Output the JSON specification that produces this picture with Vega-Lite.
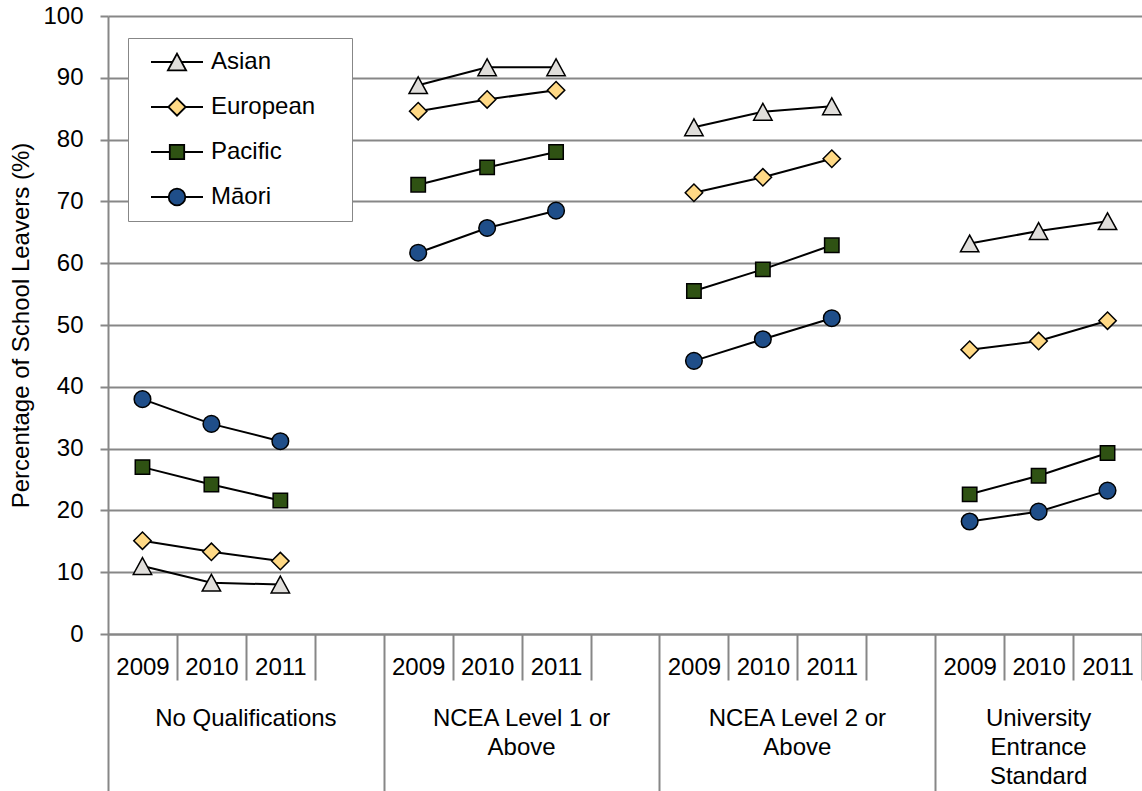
{
  "$schema": "https://vega.github.io/schema/vega-lite/v6.json",
  "width": 1034,
  "height": 618,
  "autosize": {"type": "none"},
  "padding": {"left": 108, "top": 16, "right": 0, "bottom": 157},
  "config": {
    "font": "Liberation Sans",
    "view": {"stroke": null},
    "axis": {"labelColor": "black", "titleColor": "black", "labelFont": "Liberation Sans", "titleFont": "Liberation Sans"}
  },
  "data": {
    "values": [
      {"slot": "NQ|2009", "group": "NQ", "eth": "Asian", "pct": 11.0},
      {"slot": "NQ|2010", "group": "NQ", "eth": "Asian", "pct": 8.3},
      {"slot": "NQ|2011", "group": "NQ", "eth": "Asian", "pct": 8.0},
      {"slot": "NQ|2009", "group": "NQ", "eth": "European", "pct": 15.1},
      {"slot": "NQ|2010", "group": "NQ", "eth": "European", "pct": 13.3},
      {"slot": "NQ|2011", "group": "NQ", "eth": "European", "pct": 11.8},
      {"slot": "NQ|2009", "group": "NQ", "eth": "Pacific", "pct": 27.0},
      {"slot": "NQ|2010", "group": "NQ", "eth": "Pacific", "pct": 24.2},
      {"slot": "NQ|2011", "group": "NQ", "eth": "Pacific", "pct": 21.6},
      {"slot": "NQ|2009", "group": "NQ", "eth": "Māori", "pct": 38.0},
      {"slot": "NQ|2010", "group": "NQ", "eth": "Māori", "pct": 34.0},
      {"slot": "NQ|2011", "group": "NQ", "eth": "Māori", "pct": 31.2},
      {"slot": "L1|2009", "group": "L1", "eth": "Asian", "pct": 88.8},
      {"slot": "L1|2010", "group": "L1", "eth": "Asian", "pct": 91.7},
      {"slot": "L1|2011", "group": "L1", "eth": "Asian", "pct": 91.7},
      {"slot": "L1|2009", "group": "L1", "eth": "European", "pct": 84.6},
      {"slot": "L1|2010", "group": "L1", "eth": "European", "pct": 86.5},
      {"slot": "L1|2011", "group": "L1", "eth": "European", "pct": 88.0},
      {"slot": "L1|2009", "group": "L1", "eth": "Pacific", "pct": 72.7},
      {"slot": "L1|2010", "group": "L1", "eth": "Pacific", "pct": 75.5},
      {"slot": "L1|2011", "group": "L1", "eth": "Pacific", "pct": 78.0},
      {"slot": "L1|2009", "group": "L1", "eth": "Māori", "pct": 61.7},
      {"slot": "L1|2010", "group": "L1", "eth": "Māori", "pct": 65.7},
      {"slot": "L1|2011", "group": "L1", "eth": "Māori", "pct": 68.5},
      {"slot": "L2|2009", "group": "L2", "eth": "Asian", "pct": 82.0},
      {"slot": "L2|2010", "group": "L2", "eth": "Asian", "pct": 84.5},
      {"slot": "L2|2011", "group": "L2", "eth": "Asian", "pct": 85.4},
      {"slot": "L2|2009", "group": "L2", "eth": "European", "pct": 71.4},
      {"slot": "L2|2010", "group": "L2", "eth": "European", "pct": 73.9},
      {"slot": "L2|2011", "group": "L2", "eth": "European", "pct": 76.9},
      {"slot": "L2|2009", "group": "L2", "eth": "Pacific", "pct": 55.5},
      {"slot": "L2|2010", "group": "L2", "eth": "Pacific", "pct": 59.0},
      {"slot": "L2|2011", "group": "L2", "eth": "Pacific", "pct": 62.9},
      {"slot": "L2|2009", "group": "L2", "eth": "Māori", "pct": 44.2},
      {"slot": "L2|2010", "group": "L2", "eth": "Māori", "pct": 47.7},
      {"slot": "L2|2011", "group": "L2", "eth": "Māori", "pct": 51.1},
      {"slot": "UE|2009", "group": "UE", "eth": "Asian", "pct": 63.2},
      {"slot": "UE|2010", "group": "UE", "eth": "Asian", "pct": 65.2},
      {"slot": "UE|2011", "group": "UE", "eth": "Asian", "pct": 66.8},
      {"slot": "UE|2009", "group": "UE", "eth": "European", "pct": 46.0},
      {"slot": "UE|2010", "group": "UE", "eth": "European", "pct": 47.4},
      {"slot": "UE|2011", "group": "UE", "eth": "European", "pct": 50.7},
      {"slot": "UE|2009", "group": "UE", "eth": "Pacific", "pct": 22.6},
      {"slot": "UE|2010", "group": "UE", "eth": "Pacific", "pct": 25.6},
      {"slot": "UE|2011", "group": "UE", "eth": "Pacific", "pct": 29.3},
      {"slot": "UE|2009", "group": "UE", "eth": "Māori", "pct": 18.2},
      {"slot": "UE|2010", "group": "UE", "eth": "Māori", "pct": 19.8},
      {"slot": "UE|2011", "group": "UE", "eth": "Māori", "pct": 23.2}
    ]
  },
  "layer": [
    {
      "mark": {"type": "line", "color": "black", "strokeWidth": 2},
      "encoding": {
        "x": {
          "field": "slot", "type": "ordinal",
          "scale": {"type": "band", "paddingInner": 0, "paddingOuter": 0,
            "domain": ["NQ|2009","NQ|2010","NQ|2011","NQ|","L1|2009","L1|2010","L1|2011","L1|","L2|2009","L2|2010","L2|2011","L2|","UE|2009","UE|2010","UE|2011"]},
          "axis": {
            "title": null, "orient": "bottom", "grid": false,
            "tickBand": "extent",
            "labelExpr": "split(datum.value, '|')[1]",
            "labelAngle": 0, "labelOverlap": false,
            "labelFontSize": 24,
            "labelPadding": {"condition": {"test": "datum.extra || indexof(['NQ|','L1|','L2|'], datum.value) >= 0", "value": -136}, "value": -25},
            "tickColor": "#878787", "tickWidth": 2,
            "tickSize": {"condition": {"test": "datum.extra || indexof(['NQ|','L1|','L2|'], datum.value) >= 0", "value": 157}, "value": 46},
            "domainColor": "#878787", "domainWidth": 2
          }
        },
        "y": {
          "field": "pct", "type": "quantitative",
          "scale": {"domain": [0, 100], "nice": false, "zero": true},
          "axis": {
            "title": "Percentage of School Leavers (%)",
            "values": [0,10,20,30,40,50,60,70,80,90,100],
            "titleFontSize": 24, "titleFontWeight": "normal", "titlePadding": 9,
            "labelFontSize": 24, "labelPadding": 17,
            "tickSize": 8, "tickColor": "#878787", "tickWidth": 2,
            "domainColor": "#878787", "domainWidth": 2,
            "gridColor": "#878787", "gridWidth": 2
          }
        },
        "detail": [{"field": "eth"}, {"field": "group"}]
      }
    },
    {
      "mark": {"type": "point", "filled": true, "size": 400, "stroke": "black", "strokeWidth": 1.5, "opacity": 1},
      "encoding": {
        "x": {
          "field": "slot", "type": "ordinal",
          "axis": {
            "title": null, "orient": "bottom", "grid": false, "domain": false, "ticks": false,
            "values": ["NQ|2010", "L1|2010", "L2|2010", "UE|2010"],
            "labelExpr": "datum.value == 'NQ|2010' ? 'No Qualifications' : datum.value == 'L1|2010' ? ['NCEA Level 1 or', 'Above'] : datum.value == 'L2|2010' ? ['NCEA Level 2 or', 'Above'] : ['University', 'Entrance', 'Standard']",
            "labelAngle": 0, "labelOverlap": false, "labelLimit": 500,
            "labelFontSize": 24, "labelLineHeight": 29, "labelPadding": 72,
            "labelOffset": {"condition": {"test": "datum.value == 'UE|2010'", "value": 0}, "value": 34.47}
          }
        },
        "y": {"field": "pct", "type": "quantitative", "axis": null},
        "shape": {
          "field": "eth", "type": "nominal", "legend": null,
          "scale": {
            "domain": ["Asian", "European", "Pacific", "Māori"],
            "range": [
              "M0,-0.84 L0.92,0.84 L-0.92,0.84 Z",
              "M0,-0.87 L0.87,0 L0,0.87 L-0.87,0 Z",
              "M-0.72,-0.72 L0.72,-0.72 L0.72,0.72 L-0.72,0.72 Z",
              "M0.83,0 A0.83,0.83 0 1,1 -0.83,0 A0.83,0.83 0 1,1 0.83,0 Z"
            ]
          }
        },
        "fill": {
          "field": "eth", "type": "nominal", "legend": null,
          "scale": {"domain": ["Asian", "European", "Pacific", "Māori"], "range": ["#E0DEDB", "#FFD985", "#2F5213", "#1F4E89"]}
        }
      }
    },
    {
      "transform": [{"filter": "false"}],
      "mark": {"type": "point", "filled": true, "size": 2704, "stroke": "black", "strokeWidth": 1.8, "opacity": 1},
      "encoding": {
        "x": {"field": "slot", "type": "ordinal", "axis": null},
        "y": {"field": "pct", "type": "quantitative", "axis": null},
        "shape": {
          "field": "eth", "type": "nominal",
          "scale": {
            "domain": ["Asian", "European", "Pacific", "Māori"],
            "range": [
              "M-1,0 L-0.175,0 M0.175,0 L1,0 M0,-0.32 L0.35,0.32 L-0.35,0.32 Z",
              "M-1,0 L-0.335,0 M0.335,0 L1,0 M0,-0.335 L0.335,0 L0,0.335 L-0.335,0 Z",
              "M-1,0 L-0.277,0 M0.277,0 L1,0 M-0.277,-0.277 L0.277,-0.277 L0.277,0.277 L-0.277,0.277 Z",
              "M-1,0 L-0.32,0 M0.32,0 L1,0 M0.32,0 A0.32,0.32 0 1,1 -0.32,0 A0.32,0.32 0 1,1 0.32,0 Z"
            ]
          },
          "legend": {
            "title": null, "orient": "none", "legendX": 20, "legendY": 22,
            "padding": 12, "strokeColor": "#878787", "fillColor": "white",
            "labelFontSize": 24, "labelFont": "Liberation Sans", "labelColor": "black",
            "labelExpr": "datum.label + '\u2003\u200b'",
            "symbolSize": 2704, "symbolStrokeColor": "black", "symbolStrokeWidth": 1.8, "symbolOpacity": 1,
            "symbolOffset": 10, "labelOffset": 7, "clipHeight": 24, "rowPadding": 21,
            "encode": {"symbols": {"update": {"stroke": {"value": "black"}, "strokeWidth": {"value": 1.8}}}}
          }
        },
        "fill": {
          "field": "eth", "type": "nominal",
          "scale": {"domain": ["Asian", "European", "Pacific", "Māori"], "range": ["#E0DEDB", "#FFD985", "#2F5213", "#1F4E89"]},
          "legend": {
            "title": null, "orient": "none", "legendX": 20, "legendY": 22,
            "padding": 12, "strokeColor": "#878787", "fillColor": "white",
            "labelFontSize": 24, "labelFont": "Liberation Sans", "labelColor": "black",
            "labelExpr": "datum.label + '\u2003\u200b'",
            "symbolSize": 2704, "symbolStrokeColor": "black", "symbolStrokeWidth": 1.8, "symbolOpacity": 1,
            "symbolOffset": 10, "labelOffset": 7, "clipHeight": 24, "rowPadding": 21,
            "encode": {"symbols": {"update": {"stroke": {"value": "black"}, "strokeWidth": {"value": 1.8}}}}
          }
        }
      }
    }
  ],
  "resolve": {
    "scale": {"shape": "independent", "fill": "independent"},
    "axis": {"x": "independent", "y": "independent"}
  }
}
